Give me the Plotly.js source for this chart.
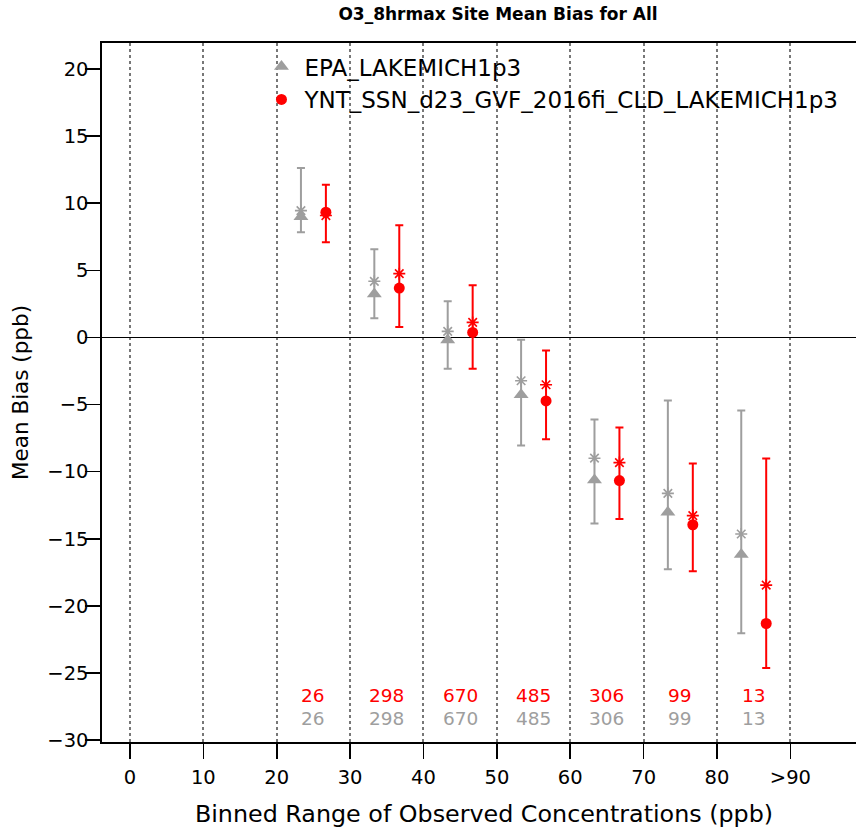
<!DOCTYPE html>
<html>
<head>
<meta charset="utf-8">
<script src="https://cdn.plot.ly/plotly-3.0.1.min.js"></script>
<style>
  html, body { margin: 0; padding: 0; overflow: hidden; background: #fff; }
  #chart { width: 880px; height: 828px; }
</style>
</head>
<body>
<div id="chart"></div>
<script>
// Bins (ppb) — lower edges of each bin
const binLow = [20, 30, 40, 50, 60, 70, 80];
const xTickVals = [0, 10, 20, 30, 40, 50, 60, 70, 80, 90];
const xTickText = ['0', '10', '20', '30', '40', '50', '60', '70', '80', '>90'];

// EPA_LAKEMICH1p3 (grey)
const epaMedian = [9.0, 3.23, -0.2, -4.28, -10.62, -13.03, -16.17];
const epaMean   = [9.45, 4.18, 0.45, -3.23, -9.0, -11.62, -14.65];
const epaUpper  = [12.63, 6.57, 2.69, -0.17, -6.12, -4.70, -5.45];
const epaLower  = [7.83, 1.42, -2.34, -8.06, -13.86, -17.27, -22.04];
const epaCount  = [26, 298, 670, 485, 306, 99, 13];

// YNT_SSN_d23_GVF_2016fi_CLD_LAKEMICH1p3 (red)
const yntMedian = [9.33, 3.68, 0.37, -4.73, -10.67, -13.96, -21.32];
const yntMean   = [9.08, 4.75, 1.12, -3.53, -9.33, -13.28, -18.46];
const yntUpper  = [11.37, 8.36, 3.88, -0.97, -6.72, -9.40, -9.03];
const yntLower  = [7.09, 0.77, -2.34, -7.59, -13.53, -17.42, -24.63];
const yntCount  = [26, 298, 670, 485, 306, 99, 13];

const names = ['EPA_LAKEMICH1p3', 'YNT_SSN_d23_GVF_2016fi_CLD_LAKEMICH1p3'];
const GREY = '#9E9E9E';
const RED = '#FF0000';
const FONT = 'DejaVu Sans, Liberation Sans, Arial, sans-serif';

const binWidth = 10, offset = 1.7;
const xEpa = binLow.map(v => v + binWidth / 2 - offset);
const xYnt = binLow.map(v => v + binWidth / 2 + offset);
const xMid = binLow.map(v => v + binWidth / 2);

function errTrace(x, mean, up, lo, color) {
  return {
    x: x, y: mean, type: 'scatter', mode: 'markers', showlegend: false, hoverinfo: 'skip',
    marker: { symbol: 'asterisk-open', size: 10, color: color, line: { color: color, width: 1.6 } },
    error_y: {
      type: 'data', symmetric: false,
      array: up.map((u, i) => u - mean[i]),
      arrayminus: lo.map((l, i) => mean[i] - l),
      color: color, thickness: 2, width: 4
    }
  };
}

const traces = [
  errTrace(xEpa, epaMean, epaUpper, epaLower, GREY),
  errTrace(xYnt, yntMean, yntUpper, yntLower, RED),
  { x: xEpa, y: epaMedian, type: 'scatter', mode: 'markers', name: names[0],
    marker: { symbol: 'triangle-up', size: 13, color: GREY } },
  { x: xYnt, y: yntMedian, type: 'scatter', mode: 'markers', name: names[1],
    marker: { symbol: 'circle', size: 11, color: RED } }
];

const annotations = [];
xMid.forEach((x, i) => {
  annotations.push({ x: x, y: -26.72, xref: 'x', yref: 'y', text: String(yntCount[i]), showarrow: false,
    font: { family: FONT, size: 18.5, color: RED }, xanchor: 'center', yanchor: 'middle' });
  annotations.push({ x: x, y: -28.4, xref: 'x', yref: 'y', text: String(epaCount[i]), showarrow: false,
    font: { family: FONT, size: 18.5, color: GREY }, xanchor: 'center', yanchor: 'middle' });
});

const layout = {
  width: 880, height: 828,
  margin: { l: 102, r: 14, t: 43, b: 86 },
  paper_bgcolor: '#fff', plot_bgcolor: '#fff',
  font: { family: FONT, size: 19.5, color: '#000' },
  title: { text: 'O3_8hrmax Site Mean Bias for All', xref: 'container', x: 498 / 880, xanchor: 'center',
           yref: 'container', y: 1 - 14.5 / 828, yanchor: 'middle',
           font: { family: FONT, size: 17, weight: 'bold', color: '#000' } },
  xaxis: {
    range: [-3.81, 100.3], tickmode: 'array', tickvals: xTickVals, ticktext: xTickText,
    showgrid: true, gridcolor: '#777', gridwidth: 2, griddash: '3px,3px',
    zeroline: false, showline: true, linecolor: '#000', linewidth: 1.6, mirror: true,
    ticks: 'outside', ticklen: 15, tickwidth: 1.6, tickcolor: '#000',
    ticklabelstandoff: 2,
    tickfont: { family: FONT, size: 19.5 },
    title: { text: 'Binned Range of Observed Concentrations (ppb)', font: { family: FONT, size: 23.8 }, standoff: 22 }
  },
  yaxis: {
    range: [-30.15, 21.94], tickmode: 'array', tickvals: [-30, -25, -20, -15, -10, -5, 0, 5, 10, 15, 20],
    showgrid: false, zeroline: true, zerolinecolor: '#000', zerolinewidth: 1.6,
    showline: true, linecolor: '#000', linewidth: 1.6, mirror: true,
    ticks: 'outside', ticklen: 15, tickwidth: 1.6, tickcolor: '#000',
    ticklabelstandoff: -7,
    tickfont: { family: FONT, size: 19.5 },
    title: { text: 'Mean Bias (ppb)', font: { family: FONT, size: 21.5 }, standoff: 13 }
  },
  legend: {
    x: 0.2048, y: 0.997, xref: 'paper', yref: 'paper', xanchor: 'left', yanchor: 'top',
    bgcolor: 'rgba(0,0,0,0)', borderwidth: 0, font: { family: FONT, size: 23 },
    traceorder: 'normal', tracegroupgap: 0, itemwidth: 36
  },
  annotations: annotations,
  showlegend: true
};

Plotly.newPlot('chart', traces, layout, { displayModeBar: false, staticPlot: true });
</script>
</body>
</html>
